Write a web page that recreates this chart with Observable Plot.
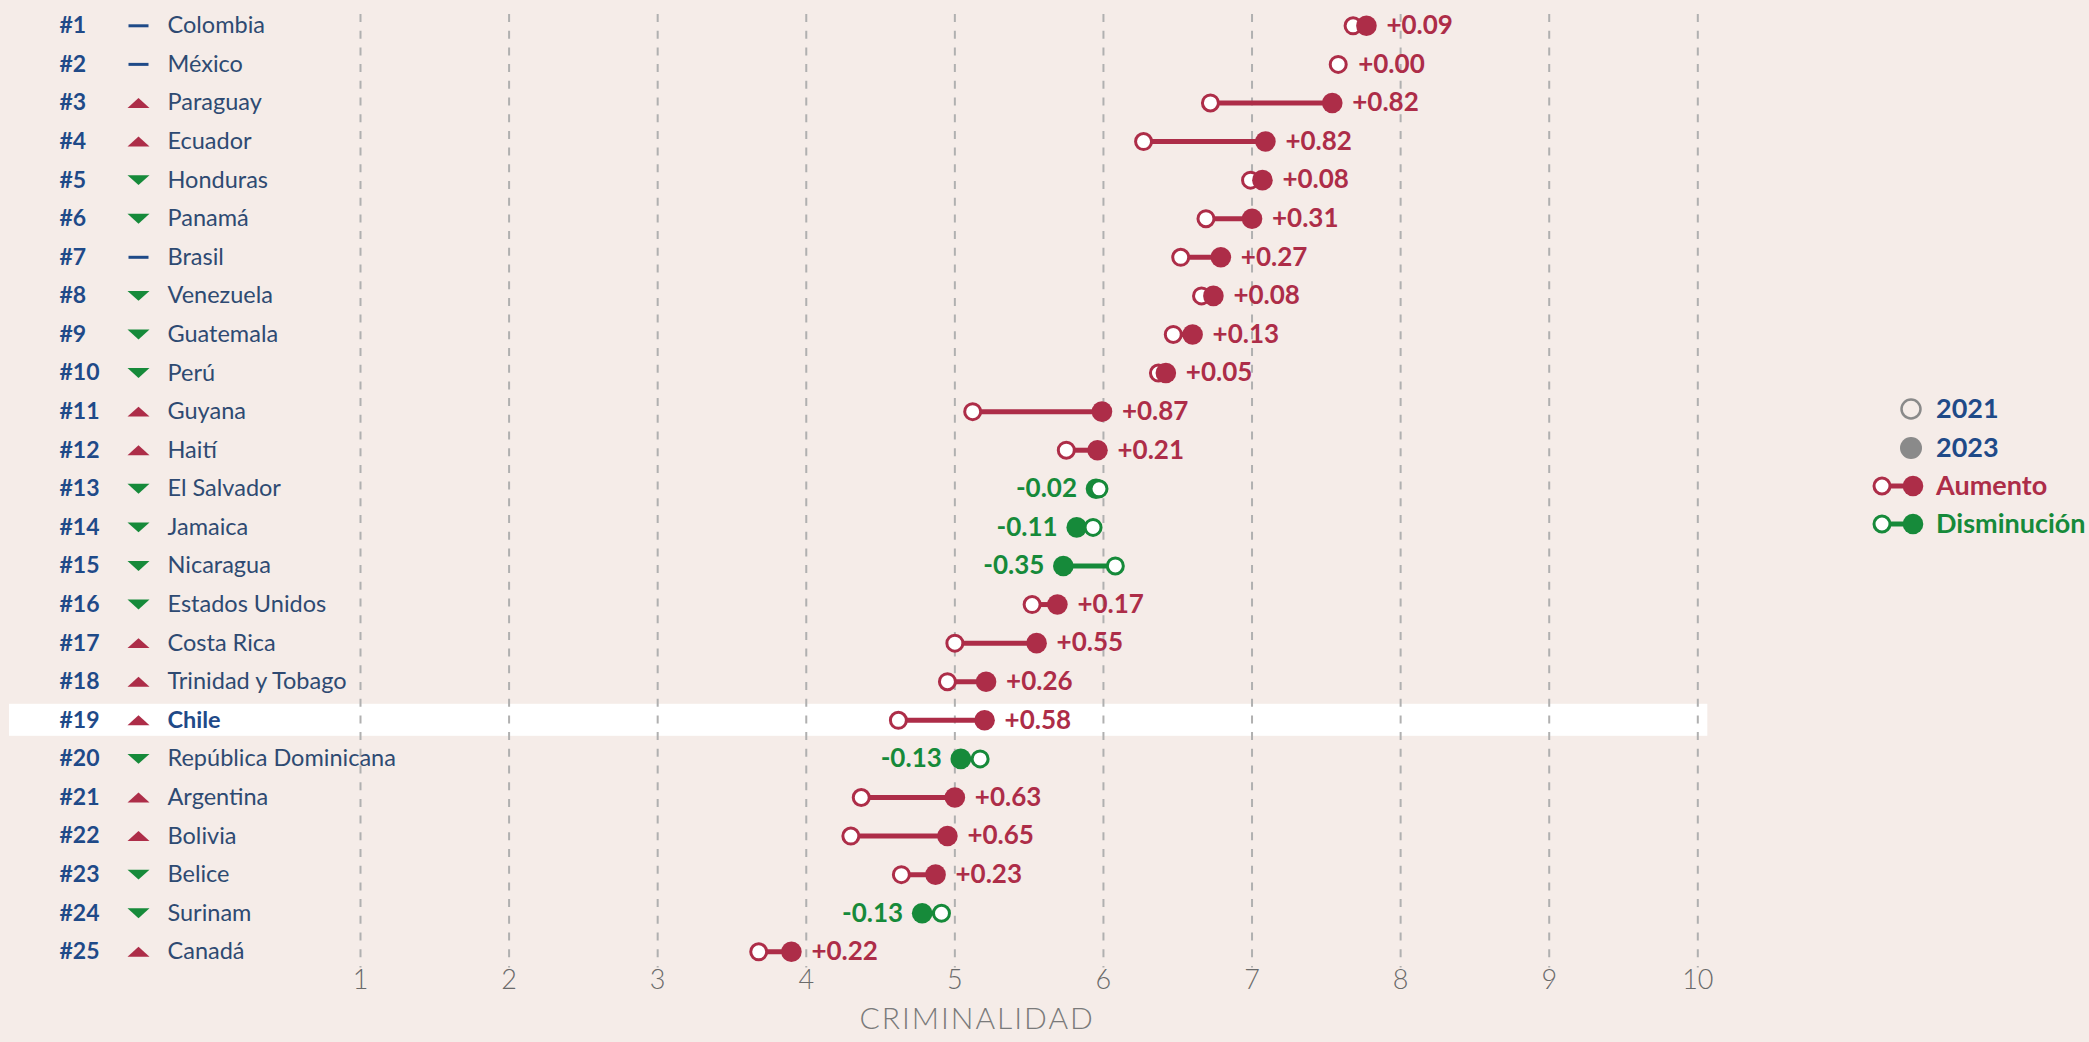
<!DOCTYPE html>
<html>
<head>
<meta charset="utf-8">
<script src="https://cdn.jsdelivr.net/npm/d3@7"></script>
<script src="https://cdn.jsdelivr.net/npm/@observablehq/plot@0.6"></script>
<style>
  html, body { margin: 0; padding: 0; background: #f5ece8; }
  #wrap { position: relative; width: 2089px; height: 1042px; overflow: hidden; }
  #legend { position: absolute; left: 0; top: 0; }
</style>
</head>
<body>
<div id="wrap"><div id="chart"></div><svg id="legend" width="2089" height="1042"></svg></div>
<script>
// ---- Data ----
const countries = ["Colombia","México","Paraguay","Ecuador","Honduras","Panamá","Brasil","Venezuela","Guatemala","Perú","Guyana","Haití","El Salvador","Jamaica","Nicaragua","Estados Unidos","Costa Rica","Trinidad y Tobago","Chile","República Dominicana","Argentina","Bolivia","Belice","Surinam","Canadá"];
const ranks = ["#1","#2","#3","#4","#5","#6","#7","#8","#9","#10","#11","#12","#13","#14","#15","#16","#17","#18","#19","#20","#21","#22","#23","#24","#25"];
const rankChange = ["same","same","up","up","down","down","same","down","down","down","up","up","down","down","down","down","up","up","up","down","up","up","down","down","up"];
const values2021 = [7.68,7.58,6.72,6.27,6.99,6.69,6.52,6.66,6.47,6.37,5.12,5.75,5.97,5.93,6.08,5.52,5.00,4.95,4.62,5.17,4.37,4.30,4.64,4.91,3.68];
const values2023 = [7.77,7.58,7.54,7.09,7.07,7.00,6.79,6.74,6.60,6.42,5.99,5.96,5.95,5.82,5.73,5.69,5.55,5.21,5.20,5.04,5.00,4.95,4.87,4.78,3.90];
const deltas = [0.09,0.00,0.82,0.82,0.08,0.31,0.27,0.08,0.13,0.05,0.87,0.21,-0.02,-0.11,-0.35,0.17,0.55,0.26,0.58,-0.13,0.63,0.65,0.23,-0.13,0.22];
const xTicks = [1,2,3,4,5,6,7,8,9,10];
const highlight = "Chile";
const axisTitle = "CRIMINALIDAD";

// ---- Styles ----
const RED = "#ad2d48";
const GREEN = "#168a3a";
const NAVY = "#1f4a88";
const TEXTC = "#2e4a72";
const FONT = "Lato, 'Open Sans', sans-serif";

const data = countries.map((c, i) => ({
  country: c,
  rank: ranks[i],
  change: rankChange[i],
  a: values2021[i],
  b: values2023[i],
  delta: deltas[i],
  label: (deltas[i] >= 0 ? "+" : "") + deltas[i].toFixed(2),
  col: deltas[i] >= 0 ? RED : GREEN
}));

function flatTri(up) {
  return {draw(ctx, size) {
    const r = Math.sqrt(size / Math.PI);
    const h = r * 0.45 * (up ? 1 : -1);
    ctx.moveTo(-r, h); ctx.lineTo(r, h); ctx.lineTo(0, -h); ctx.closePath();
  }};
}
const dashSym = {draw(ctx, size) {
  const r = Math.sqrt(size / Math.PI);
  ctx.rect(-r, -1.5, 2 * r, 3);
}};

const plot = Plot.plot({
  width: 2089,
  height: 1042,
  marginLeft: 360,
  marginRight: 391.7,
  marginTop: 6,
  marginBottom: 71.4,
  style: {background: "transparent", fontFamily: FONT, overflow: "visible"},
  x: {domain: [1, 10], axis: null},
  y: {type: "band", domain: countries, paddingInner: 0.17, paddingOuter: 0.085, round: false, axis: null},
  color: {type: "identity"},
  marks: [
    Plot.cell(data.filter(d => d.country === highlight), {y: "country", fill: "white", insetLeft: -351, insetRight: -10}),
    Plot.ruleX(xTicks, {stroke: "#b0b0b0", strokeWidth: 2, strokeDasharray: "8,8.7", insetTop: 8, insetBottom: 3}),
    // left labels
    Plot.text(data, {y: "country", text: "rank", frameAnchor: "left", dx: -301, textAnchor: "start", fill: NAVY, fontWeight: 700, fontSize: 23}),
    Plot.dot(data.filter(d => d.change === "up"), {y: "country", frameAnchor: "left", dx: -222, r: 11, symbol: flatTri(true), fill: RED, stroke: "none"}),
    Plot.dot(data.filter(d => d.change === "down"), {y: "country", frameAnchor: "left", dx: -222, r: 11, symbol: flatTri(false), fill: GREEN, stroke: "none"}),
    Plot.dot(data.filter(d => d.change === "same"), {y: "country", frameAnchor: "left", dx: -222, r: 10, symbol: dashSym, fill: NAVY, stroke: "none"}),
    Plot.text(data.filter(d => d.country !== highlight), {y: "country", text: "country", frameAnchor: "left", dx: -193, textAnchor: "start", fill: TEXTC, fontSize: 23.5}),
    Plot.text(data.filter(d => d.country === highlight), {y: "country", text: "country", frameAnchor: "left", dx: -193, textAnchor: "start", fill: NAVY, fontWeight: 700, fontSize: 23.5}),
    // dumbbells
    Plot.link(data, {x1: "a", x2: "b", y1: "country", y2: "country", stroke: "col", strokeWidth: 5}),
    Plot.dot(data.filter(d => d.delta < 0), {x: "b", y: "country", r: 10.3, fill: "col", stroke: "none"}),
    Plot.dot(data, {x: "a", y: "country", r: 8, fill: "white", stroke: "col", strokeWidth: 3}),
    Plot.dot(data.filter(d => d.delta > 0), {x: "b", y: "country", r: 10.3, fill: "col", stroke: "none"}),
    Plot.text(data.filter(d => d.delta >= 0), {x: "b", y: "country", text: "label", dx: 20, textAnchor: "start", fill: RED, fontWeight: 700, fontSize: 26}),
    Plot.text(data.filter(d => d.delta < 0), {x: "b", y: "country", text: "label", dx: -19, textAnchor: "end", fill: GREEN, fontWeight: 700, fontSize: 26}),
    // x axis
    Plot.text(xTicks, {x: d => d, frameAnchor: "bottom", dy: 18, text: d => String(d), fill: "#6a6a6a", fontSize: 27, fontWeight: 300}),
    Plot.text([axisTitle], {frameAnchor: "bottom", dx: -52, dy: 57.5, text: d => d, fill: "#7a7a7a", fontSize: 30, fontWeight: 300})
  ]
});
document.getElementById("chart").appendChild(plot);
d3.select(plot).selectAll("text").filter(function() { return this.textContent === axisTitle; }).attr("letter-spacing", "2px");

// ---- Legend ----
const lg = d3.select("#legend").style("font-family", FONT);
const legendItems = [
  {label: "2021", color: NAVY, kind: "open"},
  {label: "2023", color: NAVY, kind: "filled"},
  {label: "Aumento", color: RED, kind: "pair", c: RED},
  {label: "Disminución", color: GREEN, kind: "pair", c: GREEN}
];
const ly = [409, 448, 486, 524];
legendItems.forEach((it, i) => {
  const y = ly[i];
  if (it.kind === "open") {
    lg.append("circle").attr("cx", 1911).attr("cy", y).attr("r", 9.5).attr("fill", "none").attr("stroke", "#8a8a8a").attr("stroke-width", 2.5);
  } else if (it.kind === "filled") {
    lg.append("circle").attr("cx", 1911).attr("cy", y).attr("r", 11).attr("fill", "#8a8a8a");
  } else {
    lg.append("line").attr("x1", 1882).attr("x2", 1913).attr("y1", y).attr("y2", y).attr("stroke", it.c).attr("stroke-width", 5);
    lg.append("circle").attr("cx", 1882).attr("cy", y).attr("r", 8).attr("fill", "white").attr("stroke", it.c).attr("stroke-width", 3);
    lg.append("circle").attr("cx", 1913).attr("cy", y).attr("r", 10.3).attr("fill", it.c);
  }
  lg.append("text").attr("x", 1936).attr("y", y).attr("dy", "0.35em").attr("fill", it.color)
    .attr("font-size", 27).attr("font-weight", 700).text(it.label);
});
</script>
</body>
</html>
